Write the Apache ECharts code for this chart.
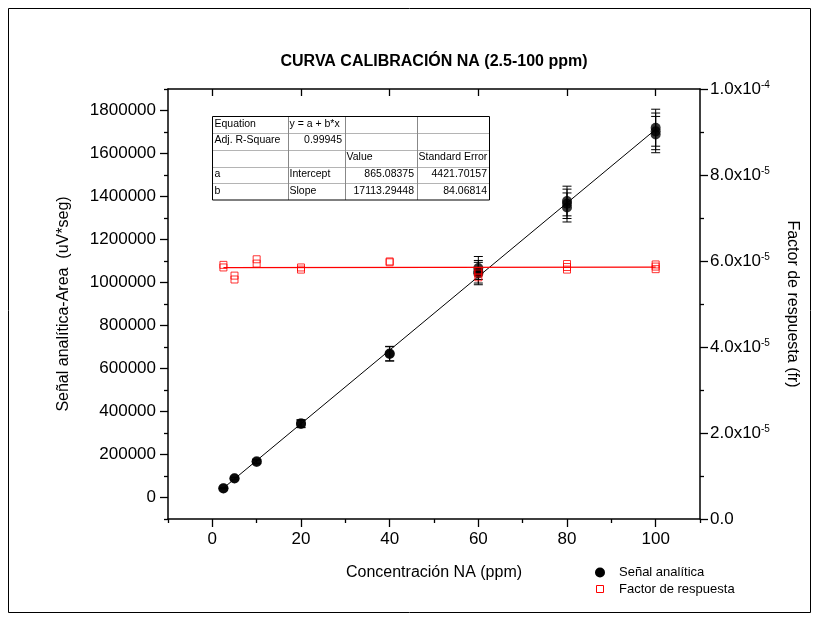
<!DOCTYPE html>
<html>
<head>
<meta charset="utf-8">
<script src="https://cdn.jsdelivr.net/npm/echarts@6/dist/echarts.min.js"></script>
<style>
  html, body { margin: 0; padding: 0; background: #fff; }
  #chart { width: 816px; height: 622px; }
</style>
</head>
<body>
<div id="chart"></div>
<script>
// Calibration of NA: replicate injections, concentration (ppm) vs. peak area (uV*seg)
const concSignal = [2.5, 2.5, 5, 5, 10, 10, 20, 20, 40, 40, 60, 60, 60, 80, 80, 80, 100, 100, 100];
const areaSignal = [42300, 42700, 88300, 89800, 165600, 168400, 341900, 344800, 667800, 669500,
                    1041700, 1050000, 1067600, 1349000, 1366000, 1379000, 1688000, 1703000, 1720000];
const areaError  = [2100, 2100, 4400, 4500, 8300, 8400, 17100, 17200, 33400, 33500,
                    52100, 52500, 53400, 67500, 68300, 69000, 84400, 85200, 86000];

// Response factor (fr) of each injection
const concFactor = [2.5, 2.5, 5, 5, 10, 10, 20, 20, 40, 40, 60, 60, 60, 80, 80, 80, 100, 100, 100];
const responseFactor = [5.91e-5, 5.85e-5, 5.66e-5, 5.57e-5, 6.04e-5, 5.94e-5, 5.85e-5, 5.80e-5, 5.99e-5, 5.97e-5,
                        5.76e-5, 5.71e-5, 5.62e-5, 5.93e-5, 5.86e-5, 5.80e-5, 5.92e-5, 5.87e-5, 5.81e-5];

// Linear regression y = a + b*x
const fitIntercept = 865.08375;
const fitInterceptErr = 4421.70157;
const fitSlope = 17113.29448;
const fitSlopeErr = 84.06814;
const fitAdjR2 = 0.99945;
const fitRange = [2.5, 100];

// Straight fit of the response factor
const factorFitX = [2.5, 100];
const factorFitY = [5.844e-5, 5.858e-5];

const seriesNames = ['Señal analítica', 'Factor de respuesta'];

// Axis ticks
const xMajorTicks = [0, 20, 40, 60, 80, 100];
const xMinorTicks = [-10, 10, 30, 50, 70, 90, 110];
const yLeftMajorTicks = [0, 200000, 400000, 600000, 800000, 1000000, 1200000, 1400000, 1600000, 1800000];
const yLeftMinorTicks = [-100000, 100000, 300000, 500000, 700000, 900000, 1100000, 1300000, 1500000, 1700000, 1900000];
const yRightMajorTicks = [0, 2e-5, 4e-5, 6e-5, 8e-5, 1e-4];
const yRightMinorTicks = [1e-5, 3e-5, 5e-5, 7e-5, 9e-5];
const yRightTickMantissa = ['0.0', '2.0x10', '4.0x10', '6.0x10', '8.0x10', '1.0x10'];
const yRightTickExponent = ['', '-5', '-5', '-5', '-5', '-4'];

// Regression results table
const tableRows = [
  ['Equation', 'y = a + b*x', '', ''],
  ['Adj. R-Square', fitAdjR2.toFixed(5), '', ''],
  ['', '', 'Value', 'Standard Error'],
  ['a', 'Intercept', fitIntercept.toFixed(5), fitInterceptErr.toFixed(5)],
  ['b', 'Slope', fitSlope.toFixed(5), fitSlopeErr.toFixed(5)]
];
const tableAlign = [
  ['left', 'left', 'left', 'left'],
  ['left', 'right', 'left', 'left'],
  ['left', 'left', 'left', 'left'],
  ['left', 'left', 'right', 'right'],
  ['left', 'left', 'right', 'right']
];

const FONT = 'Liberation Sans, Arial, sans-serif';
const chart = echarts.init(document.getElementById('chart'));

function zip(a, b, c) {
  return a.map((v, i) => c ? [v, b[i], c[i]] : [v, b[i]]);
}

function renderErrorBar(params, api) {
  const x = api.value(0), y = api.value(1), e = api.value(2);
  const hi = api.coord([x, y + e]);
  const lo = api.coord([x, y - e]);
  const w = 4.5;
  const style = { stroke: '#000', lineWidth: 1 };
  return {
    type: 'group',
    children: [
      { type: 'line', shape: { x1: hi[0], y1: hi[1], x2: lo[0], y2: lo[1] }, style },
      { type: 'line', shape: { x1: hi[0] - w, y1: hi[1], x2: hi[0] + w, y2: hi[1] }, style },
      { type: 'line', shape: { x1: lo[0] - w, y1: lo[1], x2: lo[0] + w, y2: lo[1] }, style }
    ]
  };
}

function plainNumber(v) {
  return String(Math.round(v));
}

function rightTickLabel(v) {
  const i = yRightMajorTicks.findIndex(t => Math.abs(t - v) < 1e-12);
  if (i < 0) return '';
  return yRightTickExponent[i]
    ? '{m|' + yRightTickMantissa[i] + '}{e|' + yRightTickExponent[i] + '}'
    : '{m|' + yRightTickMantissa[i] + '}';
}

// Outer border of the figure, drawn as four lines
function buildFrame() {
  const x0 = 8.5, y0 = 8.5, x1 = 810.5, y1 = 612.5;
  const s = { stroke: '#000', lineWidth: 1 };
  return [
    { type: 'line', shape: { x1: x0, y1: y0, x2: x1, y2: y0 }, style: s },
    { type: 'line', shape: { x1: x1, y1: y0, x2: x1, y2: y1 }, style: s },
    { type: 'line', shape: { x1: x1, y1: y1, x2: x0, y2: y1 }, style: s },
    { type: 'line', shape: { x1: x0, y1: y1, x2: x0, y2: y0 }, style: s }
  ];
}

// Regression table drawn as graphic elements
function buildTable() {
  const left = 212.5, top = 116.5, rowH = 16.7;
  const colW = [75, 57, 72, 73];
  const colX = [left];
  colW.forEach(w => colX.push(colX[colX.length - 1] + w));
  const width = colX[colX.length - 1] - left;
  const height = rowH * tableRows.length;
  const els = [];
  els.push({ type: 'rect', shape: { x: left, y: top, width, height }, style: { fill: '#fff' } });
  for (let r = 1; r < tableRows.length; r++) {
    const y = Math.round(top + r * rowH) + 0.5;
    els.push({ type: 'line', shape: { x1: left, y1: y, x2: left + width, y2: y }, style: { stroke: '#b4b4b4', lineWidth: 1 } });
  }
  for (let c = 1; c < colW.length; c++) {
    const x = Math.round(colX[c]) + 0.5;
    els.push({ type: 'line', shape: { x1: x, y1: top, x2: x, y2: top + height }, style: { stroke: '#888', lineWidth: 1 } });
  }
  els.push({ type: 'rect', shape: { x: left, y: top, width, height }, style: { fill: 'rgba(0,0,0,0)', stroke: '#000', lineWidth: 1 } });
  tableRows.forEach((row, r) => {
    row.forEach((txt, c) => {
      if (!txt) return;
      const al = tableAlign[r][c];
      els.push({
        type: 'text',
        x: al === 'right' ? colX[c + 1] - 2.5 : colX[c] + 2,
        y: top + r * rowH + rowH / 2 - 1,
        style: { text: txt, align: al, verticalAlign: 'middle', fontSize: 10.5, fontFamily: FONT, fill: '#000' }
      });
    });
  });
  return els;
}

// Legend: marker + label for each data series
function buildLegend() {
  return [
    { type: 'circle', shape: { cx: 600, cy: 572.5, r: 5 }, style: { fill: '#000' } },
    { type: 'text', x: 619, y: 572.5, style: { text: seriesNames[0], verticalAlign: 'middle', fontSize: 13, fontFamily: FONT, fill: '#000' } },
    { type: 'rect', shape: { x: 596.5, y: 585.5, width: 7, height: 7 }, style: { fill: 'rgba(0,0,0,0)', stroke: '#ff0000', lineWidth: 1 } },
    { type: 'text', x: 619, y: 589, style: { text: seriesNames[1], verticalAlign: 'middle', fontSize: 13, fontFamily: FONT, fill: '#000' } }
  ];
}

function buildTitle() {
  return [{
    type: 'text', x: 434, y: 62,
    style: { text: 'CURVA CALIBRACIÓN NA (2.5-100 ppm)', align: 'center', verticalAlign: 'middle',
             fontSize: 16, fontWeight: 'bold', fontFamily: FONT, fill: '#000' }
  }];
}

const axisLine = { show: true, onZero: false, lineStyle: { color: '#000', width: 1.5 } };
const noLine = { show: false, onZero: false };
const tickStyle = { color: '#000', width: 1.3 };

const option = {
  animation: false,
  backgroundColor: '#fff',
  grid: { left: 168, right: 116, top: 89, bottom: 103, outerBoundsMode: 'none' },
  xAxis: [
    {
      type: 'value', min: -10, max: 110, position: 'bottom',
      name: 'Concentración NA (ppm)', nameLocation: 'middle', nameGap: 46,
      nameTextStyle: { fontSize: 16, fontFamily: FONT, color: '#000' },
      axisLine,
      axisTick: { show: true, inside: false, length: 8, customValues: xMajorTicks, lineStyle: tickStyle },
      axisLabel: { show: true, customValues: xMajorTicks, formatter: plainNumber, margin: 12, fontSize: 17, fontFamily: FONT, color: '#000' },
      splitLine: { show: false }
    },
    {
      type: 'value', min: -10, max: 110, position: 'bottom',
      axisLine: noLine,
      axisTick: { show: true, inside: false, length: 4, customValues: xMinorTicks, lineStyle: tickStyle },
      axisLabel: { show: false },
      splitLine: { show: false }
    },
    {
      type: 'value', min: -10, max: 110, position: 'top',
      axisLine,
      axisTick: { show: true, inside: true, length: 7, customValues: xMajorTicks, lineStyle: tickStyle },
      axisLabel: { show: false },
      splitLine: { show: false }
    }
  ],
  yAxis: [
    {
      type: 'value', min: -100000, max: 1900000, position: 'left',
      name: 'Señal analítica-Area  (uV*seg)', nameLocation: 'middle', nameRotate: 90, nameGap: 96,
      nameTextStyle: { fontSize: 16, fontFamily: FONT, color: '#000' },
      axisLine,
      axisTick: { show: true, inside: false, length: 8, customValues: yLeftMajorTicks, lineStyle: tickStyle },
      axisLabel: { show: true, customValues: yLeftMajorTicks, formatter: plainNumber, margin: 12, fontSize: 17, fontFamily: FONT, color: '#000' },
      splitLine: { show: false }
    },
    {
      type: 'value', min: -100000, max: 1900000, position: 'left',
      axisLine: noLine,
      axisTick: { show: true, inside: false, length: 4, customValues: yLeftMinorTicks, lineStyle: tickStyle },
      axisLabel: { show: false },
      splitLine: { show: false }
    },
    {
      type: 'value', min: 0, max: 1e-4, position: 'right',
      name: 'Factor de respuesta (fr)', nameLocation: 'middle', nameRotate: -90, nameGap: 84,
      nameTextStyle: { fontSize: 16, fontFamily: FONT, color: '#000' },
      axisLine,
      axisTick: { show: true, inside: false, length: 8, customValues: yRightMajorTicks, lineStyle: tickStyle },
      axisLabel: {
        show: true, customValues: yRightMajorTicks, margin: 10, formatter: rightTickLabel,
        rich: {
          m: { fontSize: 17, fontFamily: FONT, color: '#000' },
          e: { fontSize: 10, fontFamily: FONT, color: '#000', verticalAlign: 'top' }
        }
      },
      splitLine: { show: false }
    },
    {
      type: 'value', min: 0, max: 1e-4, position: 'right',
      axisLine: noLine,
      axisTick: { show: true, inside: false, length: 4, customValues: yRightMinorTicks, lineStyle: tickStyle },
      axisLabel: { show: false },
      splitLine: { show: false }
    }
  ],
  series: [
    {
      name: 'fit-signal', type: 'line', xAxisIndex: 0, yAxisIndex: 0,
      data: fitRange.map(x => [x, fitIntercept + fitSlope * x]),
      showSymbol: false, z: 2,
      lineStyle: { color: '#000', width: 1 }
    },
    {
      name: 'error-signal', type: 'custom', xAxisIndex: 0, yAxisIndex: 0,
      data: zip(concSignal, areaSignal, areaError),
      renderItem: renderErrorBar, z: 3
    },
    {
      name: seriesNames[0], type: 'scatter', xAxisIndex: 0, yAxisIndex: 0,
      data: zip(concSignal, areaSignal),
      symbol: 'circle', symbolSize: 10, z: 4,
      itemStyle: { color: '#000' }
    },
    {
      name: 'fit-factor', type: 'line', xAxisIndex: 0, yAxisIndex: 2,
      data: zip(factorFitX, factorFitY),
      showSymbol: false, z: 5,
      lineStyle: { color: '#ff0000', width: 1.3 }
    },
    {
      name: seriesNames[1], type: 'scatter', xAxisIndex: 0, yAxisIndex: 2,
      data: zip(concFactor, responseFactor),
      symbol: 'rect', symbolSize: 7, z: 6,
      itemStyle: { color: 'rgba(0,0,0,0)', borderColor: '#ff0000', borderWidth: 1 }
    }
  ],
  graphic: {
    elements: [
      {
        type: 'group', id: 'decor', x: 0, y: 0, z: 100, silent: true,
        children: [].concat(buildFrame(), buildTitle(), buildLegend(), buildTable())
      }
    ]
  }
};

chart.setOption(option);
</script>
</body>
</html>
